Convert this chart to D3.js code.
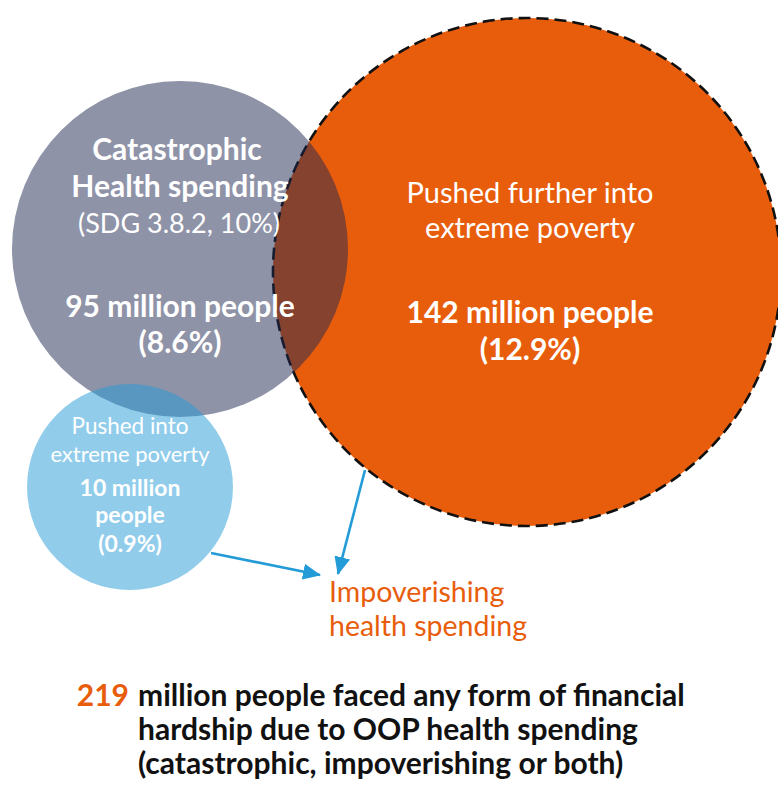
<!DOCTYPE html>
<html>
<head>
<meta charset="utf-8">
<script src="https://cdn.jsdelivr.net/npm/d3@7"></script>
<style>
  body { margin: 0; background: #fff; }
  svg { display: block; font-family: Lato, "Noto Sans", sans-serif; }
</style>
</head>
<body>
<svg id="venn"></svg>
<script>
var width = 778, height = 785;

// circles of the diagram
var groups = ["further", "catastrophic", "pushed"];
var people = [142, 95, 10];          // million people
var shares = ["12.9%", "8.6%", "0.9%"];
var titles = [
    ["Pushed further into", "extreme poverty"],
    ["Catastrophic", "Health spending", "(SDG 3.8.2, 10%)"],
    ["Pushed into", "extreme poverty"]
];
var total = 219;
var footLines = [
    "million people faced any form of financial",
    "hardship due to OOP health spending",
    "(catastrophic, impoverishing or both)"
];
var calloutLines = ["Impoverishing", "health spending"];

var svg = d3.select("#venn")
    .attr("width", width)
    .attr("height", height);

// layout through ordinal scales
var cx = d3.scaleOrdinal().domain(groups).range([527, 180, 130]);
var cy = d3.scaleOrdinal().domain(groups).range([272, 249, 487]);
var radius = d3.scaleOrdinal().domain(groups).range([254, 168, 103]);
var fill = d3.scaleOrdinal().domain(groups).range(["#e85d0c", "rgb(31,39,81)", "rgb(35,155,215)"]);
var alpha = d3.scaleOrdinal().domain(groups).range([1, 0.5, 0.5]);

var data = groups.map(function(g, i) {
    return {key: g, people: people[i], share: shares[i], title: titles[i]};
});

svg.selectAll("circle.set")
    .data(data)
    .enter().append("circle")
    .attr("class", "set")
    .attr("cx", function(d) { return cx(d.key); })
    .attr("cy", function(d) { return cy(d.key); })
    .attr("r", function(d) { return radius(d.key); })
    .attr("fill", function(d) { return fill(d.key); })
    .attr("fill-opacity", function(d) { return alpha(d.key); })
    .attr("stroke", function(d) { return d.key == "further" ? "#111" : "none"; })
    .attr("stroke-width", 2.6)
    .attr("stroke-dasharray", "12,6");

// arrows
var arrowColor = "#239bd7";
svg.append("defs").append("marker")
    .attr("id", "head")
    .attr("markerUnits", "userSpaceOnUse")
    .attr("viewBox", "0 0 18 16")
    .attr("refX", 17)
    .attr("refY", 8)
    .attr("markerWidth", 18)
    .attr("markerHeight", 16)
    .attr("orient", "auto")
    .append("path")
    .attr("d", "M0,0L18,8L0,16Z")
    .attr("fill", arrowColor);

var arrows = [
    {from: [211, 553], to: [320, 575]},
    {from: [365, 470], to: [338, 574]}
];
svg.selectAll("line.arrow")
    .data(arrows)
    .enter().append("line")
    .attr("class", "arrow")
    .attr("x1", function(d) { return d.from[0]; })
    .attr("y1", function(d) { return d.from[1]; })
    .attr("x2", function(d) { return d.to[0]; })
    .attr("y2", function(d) { return d.to[1]; })
    .attr("stroke", arrowColor)
    .attr("stroke-width", 2.6)
    .attr("marker-end", "url(#head)");

function addText(x, y, str, size, weight, color, anchor) {
    return svg.append("text")
        .attr("x", x)
        .attr("y", y)
        .attr("text-anchor", anchor || "middle")
        .attr("font-size", size)
        .attr("font-weight", weight)
        .attr("fill", color)
        .text(str);
}

// orange circle labels
addText(530, 203, titles[0][0], 29, 400, "#fff");
addText(530, 238, titles[0][1], 29, 400, "#fff");
addText(530, 323, people[0] + " million people", 30, 700, "#fff");
addText(530, 360, "(" + shares[0] + ")", 30, 700, "#fff");

// grey circle labels
addText(177, 160, titles[1][0], 30, 700, "#fff");
addText(180, 197, titles[1][1], 30, 700, "#fff");
addText(179, 233, titles[1][2], 27, 400, "#fff");
addText(180, 317, people[1] + " million people", 30, 700, "#fff");
addText(180, 353, "(" + shares[1] + ")", 30, 700, "#fff");

// blue circle labels
addText(130, 434, titles[2][0], 22.5, 400, "#fff");
addText(130, 462, titles[2][1], 22, 400, "#fff");
addText(130, 496, people[2] + " million", 23, 700, "#fff");
addText(130, 523, "people", 23, 700, "#fff");
addText(130, 552, "(" + shares[2] + ")", 23, 700, "#fff");

// callout
calloutLines.forEach(function(s, i) {
    addText(329, 602 + i * 34, s, 28.5, 400, "#e85d0c", "start");
});

// footnote
addText(129, 706, total, 30, 700, "#e85d0c", "end");
footLines.forEach(function(s, i) {
    addText(138, 706 + i * 34, s, 30, 700, "#111", "start");
});
</script>
</body>
</html>
